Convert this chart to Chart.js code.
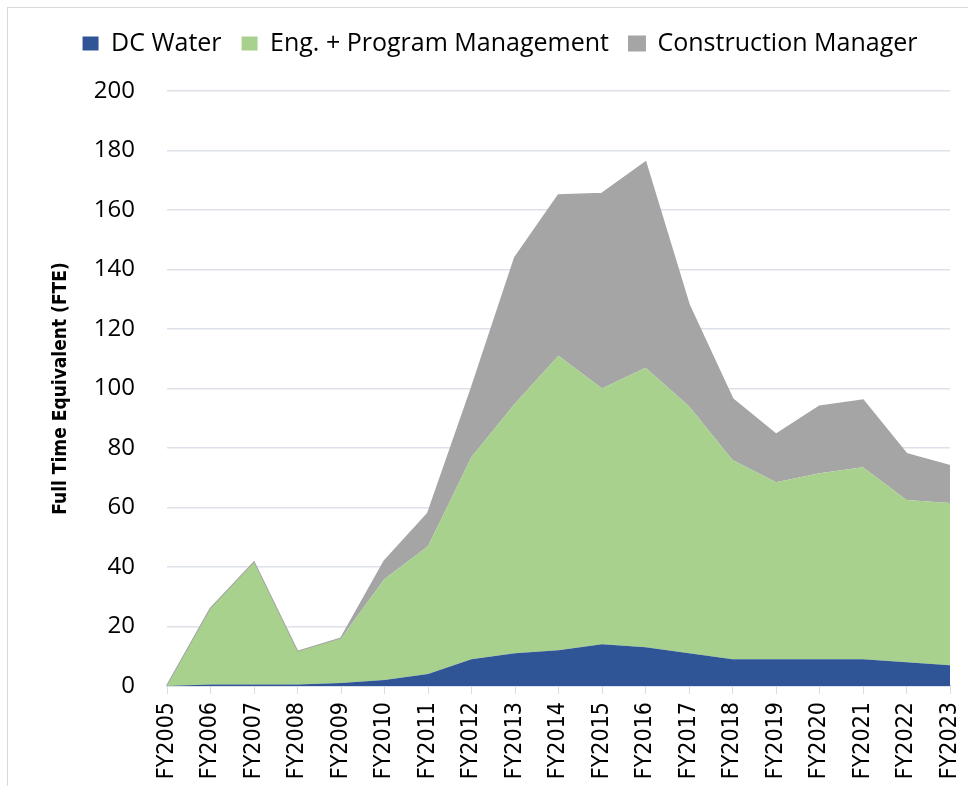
<!DOCTYPE html>
<html>
<head>
<meta charset="utf-8">
<script src="https://cdn.jsdelivr.net/npm/chart.js@4/dist/chart.umd.min.js"></script>
<style>
  html, body { margin: 0; padding: 0; background: #fff; }
  #wrap { position: relative; width: 968px; height: 786px; }
  #frame { position: absolute; left: 7px; top: 7px; width: 1000px; height: 1000px; border: 1.5px solid #d9d9d9; box-sizing: border-box; }
  canvas { position: absolute; left: 0; top: 0; }
</style>
</head>
<body>
<div id="wrap">
  <div id="frame"></div>
  <canvas id="fteChart" width="968" height="786"></canvas>
</div>
<script>
// fiscal years on the x axis
const years = ['FY2005', 'FY2006', 'FY2007', 'FY2008', 'FY2009', 'FY2010', 'FY2011', 'FY2012', 'FY2013', 'FY2014',
               'FY2015', 'FY2016', 'FY2017', 'FY2018', 'FY2019', 'FY2020', 'FY2021', 'FY2022', 'FY2023'];

// FTE per group (stacked)
const dcWater = [0, 0.5, 0.5, 0.5, 1, 2, 4, 9, 11, 12, 14, 13, 11, 9, 9, 9, 9, 8, 7];
const engProgram = [0, 25.5, 41, 11, 15, 34, 43, 68, 84, 99, 86, 94, 83, 67, 59.5, 62.5, 64.5, 54.5, 54.5];
const constructionMgr = [0, 0, 0, 0, 0, 6, 11, 23, 49, 54, 65.5, 69, 34, 20.5, 16, 22.5, 22.5, 15.5, 12.5];

const yTicks = [0, 20, 40, 60, 80, 100, 120, 140, 160, 180, 200];

const narrowFont = "'Liberation Sans Narrow', 'DejaVu Sans Condensed', 'Roboto Condensed', Roboto, sans-serif";

// extra space under the legend before the plot starts
const legendGap = {
    id: 'legendGap',
    beforeUpdate(chart) {
        let legend = chart.legend;
        if (legend && !legend._gapPatched) {
            let fit = legend.fit;
            legend.fit = function() {
                fit.call(this);
                this.height += 25;
            };
            legend._gapPatched = true;
        }
    }
};

let ctx = document.getElementById('fteChart').getContext('2d');
let chart = new Chart(ctx, {
    type: 'line',
    data: {
        labels: years,
        datasets: [{
            label: 'DC Water',
            data: dcWater,
            backgroundColor: '#2f5597',
            borderColor: '#2f5597',
            borderWidth: 0,
            fill: 'origin'
        }, {
            label: 'Eng. + Program Management',
            data: engProgram,
            backgroundColor: '#a9d18e',
            borderColor: '#a9d18e',
            borderWidth: 0,
            fill: '-1'
        }, {
            label: 'Construction Manager',
            data: constructionMgr,
            backgroundColor: '#a5a5a5',
            borderColor: '#a5a5a5',
            borderWidth: 2,
            fill: '-1'
        }]
    },
    plugins: [legendGap],
    options: {
        responsive: false,
        animation: false,
        elements: { point: { radius: 0, hoverRadius: 0 }, line: { tension: 0 } },
        layout: { padding: { left: 50, right: 18, top: 11, bottom: 0 } },
        plugins: {
            legend: {
                position: 'top',
                labels: {
                    color: '#000',
                    font: { family: 'Open Sans', size: 25 },
                    boxWidth: 16,
                    boxHeight: 14,
                    padding: 20
                }
            },
            tooltip: { enabled: false }
        },
        scales: {
            x: {
                offset: false,
                grid: { drawOnChartArea: false, drawTicks: true, tickLength: 8, color: '#d6dce6' },
                border: { display: true, color: '#ccd3df', width: 1.5 },
                ticks: {
                    color: '#000',
                    font: { family: narrowFont, size: 23 },
                    minRotation: 90,
                    maxRotation: 90,
                    autoSkip: false,
                    padding: 8
                },
                afterFit: function(scale) {
                    scale.height = 100;
                    scale.paddingLeft = 0;
                    scale.paddingRight = 0;
                }
            },
            y: {
                stacked: true,
                min: 0,
                max: 200,
                afterBuildTicks: function(scale) { scale.ticks = yTicks.map(v => ({ value: v })); },
                grid: { drawTicks: false, color: '#dde2ea', lineWidth: 1.5 },
                border: { display: false },
                ticks: {
                    color: '#000',
                    font: { family: 'Open Sans', size: 24 },
                    padding: 32
                },
                title: {
                    display: true,
                    text: 'Full Time Equivalent (FTE)',
                    color: '#000',
                    font: { family: narrowFont, size: 19, weight: 'bold' },
                    padding: 0
                },
                afterFit: function(scale) { scale.width = 117; }
            }
        }
    }
});
</script>
</body>
</html>
